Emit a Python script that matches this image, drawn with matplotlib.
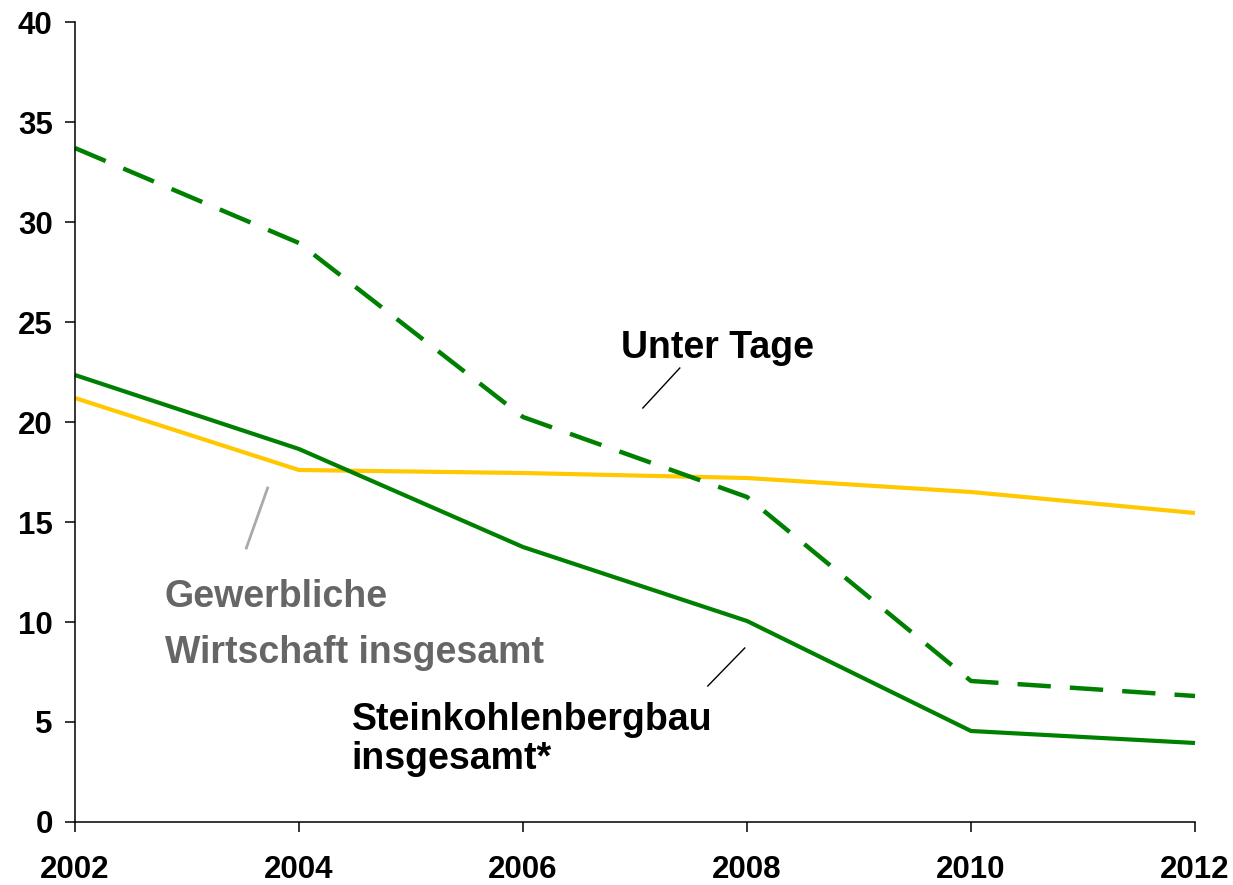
import matplotlib
matplotlib.use("Agg")
import matplotlib.pyplot as plt

plt.rcParams['font.family'] = ['Liberation Sans', 'DejaVu Sans']

years = [2002, 2004, 2006, 2008, 2010, 2012]
unter_tage = [33.7, 28.95, 20.25, 16.25, 7.05, 6.3]
steinkohle = [22.35, 18.65, 13.75, 10.05, 4.55, 3.95]
gewerbliche = [21.2, 17.6, 17.45, 17.2, 16.5, 15.45]

yticks = [0, 5, 10, 15, 20, 25, 30, 35, 40]

green = '#008000'
yellow = '#FFC800'
grey = '#666666'

fig = plt.figure(figsize=(12.33, 8.85), dpi=100)
ax = fig.add_axes([0.0608, 0.0712, 0.9084, 0.9039])

ax.plot(years, gewerbliche, color=yellow, lw=3, solid_capstyle='butt')
ax.plot(years, steinkohle, color=green, lw=3, solid_capstyle='butt')
ax.plot(years, unter_tage, color=green, lw=3.2, dashes=(7.5, 4.3), dash_capstyle='butt')

ax.set_xlim(2002, 2012)
ax.set_ylim(0, 40)
ax.set_xticks(years)
ax.set_yticks(yticks)
for s in ['top', 'right']:
    ax.spines[s].set_visible(False)
for s in ['left', 'bottom']:
    ax.spines[s].set_linewidth(1.1)
ax.tick_params(axis='both', length=7, width=1.1, labelsize=22.5)
ax.tick_params(axis='x', pad=17)
ax.tick_params(axis='y', pad=9)
for lab in ax.get_xticklabels() + ax.get_yticklabels():
    lab.set_fontweight('bold')

# labels with leader lines
ax.text(2006.875, 23.7, 'Unter Tage', fontsize=27, fontweight='bold', va='center', ha='left')
ax.plot([2007.40, 2007.07], [22.7, 20.7], color='black', lw=1)

ax.text(2002.80, 11.25, 'Gewerbliche', fontsize=27, fontweight='bold', color=grey, va='center')
ax.text(2002.80, 8.45, 'Wirtschaft insgesamt', fontsize=27, fontweight='bold', color=grey, va='center')
ax.plot([2003.72, 2003.53], [16.7, 13.7], color='#aaaaaa', lw=2)

ax.text(2004.47, 5.1, 'Steinkohlenbergbau', fontsize=27, fontweight='bold', va='center')
ax.text(2004.47, 3.15, 'insgesamt*', fontsize=27, fontweight='bold', va='center')
ax.plot([2007.98, 2007.65], [8.7, 6.8], color='black', lw=1)

for line in ax.lines:
    line.set_clip_on(False)

fig.savefig('out.png', dpi=100)
